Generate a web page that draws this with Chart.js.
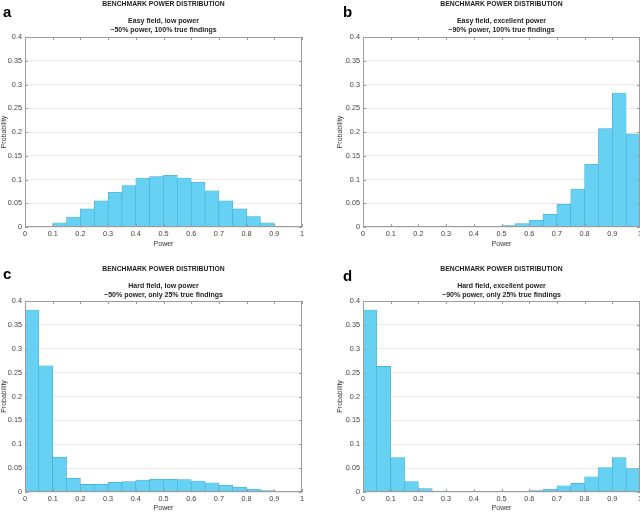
<!DOCTYPE html>
<html>
<head>
<meta charset="utf-8">
<script src="https://cdn.jsdelivr.net/npm/chart.js@4/dist/chart.umd.min.js"></script>
<style>
  html, body { margin: 0; padding: 0; background: #fff; }
  #wrap { position: relative; width: 640px; height: 512px; overflow: hidden; }
  canvas { position: absolute; }
</style>
</head>
<body>
<div id="wrap">
  <canvas id="panelA" width="320" height="256" style="left:0;top:0"></canvas>
  <canvas id="panelB" width="320" height="256" style="left:320px;top:0"></canvas>
  <canvas id="panelC" width="320" height="256" style="left:0;top:256px"></canvas>
  <canvas id="panelD" width="320" height="256" style="left:320px;top:256px"></canvas>
</div>
<script>
// bin centres (bins of width 0.05 from 0 to 1)
const binCenters = [0.025, 0.075, 0.125, 0.175, 0.225, 0.275, 0.325, 0.375, 0.425, 0.475,
                    0.525, 0.575, 0.625, 0.675, 0.725, 0.775, 0.825, 0.875, 0.925, 0.975];

// probability per bin
const easyLow = [0, 0.001, 0.009, 0.021, 0.038, 0.055, 0.073, 0.087, 0.103, 0.106,
                 0.109, 0.103, 0.094, 0.076, 0.055, 0.038, 0.022, 0.009, 0.002, 0];
const easyHigh = [0, 0, 0, 0, 0, 0, 0, 0, 0.0005, 0.001,
                  0.003, 0.007, 0.014, 0.027, 0.048, 0.080, 0.132, 0.207, 0.282, 0.196];
const hardLow = [0.381, 0.264, 0.073, 0.029, 0.016, 0.016, 0.020, 0.022, 0.025, 0.027,
                 0.027, 0.026, 0.023, 0.019, 0.014, 0.010, 0.006, 0.003, 0.001, 0];
const hardHigh = [0.381, 0.263, 0.072, 0.022, 0.007, 0.002, 0.001, 0, 0, 0,
                  0, 0.001, 0.003, 0.006, 0.013, 0.018, 0.032, 0.051, 0.072, 0.049];

const mainTitle = "BENCHMARK POWER DISTRIBUTION";
const panelLetters = ["a", "b", "c", "d"];
const subTitles = [
  ["Easy field, low power", "~50% power, 100% true findings"],
  ["Easy field, excellent power", "~90% power, 100% true findings"],
  ["Hard field, low power", "~50% power, only 25% true findings"],
  ["Hard field, excellent power", "~90% power, only 25% true findings"]
];
const xLabel = "Power";
const yLabel = "Probability";

const FONT = '"Liberation Sans", Arial, Helvetica, sans-serif';
const BAR_FILL = "#66d1f2";
const BAR_EDGE = "#44abd3";
const BOX = "#9c9c9c";

// MATLAB-like box, inward ticks and titles
const framePlugin = {
  id: "frame",
  afterDraw(chart, args, opts) {
    const { ctx, chartArea: ca, scales } = chart;
    const x = scales.x, y = scales.y;
    ctx.save();
    ctx.strokeStyle = BOX;
    ctx.lineWidth = 1;
    ctx.strokeRect(ca.left + 0.5, ca.top + 0.5, ca.right - ca.left - 1, ca.bottom - ca.top - 1);
    ctx.beginPath();
    x.ticks.forEach(t => {
      const px = Math.round(x.getPixelForValue(t.value)) + 0.5;
      ctx.moveTo(px, ca.bottom); ctx.lineTo(px, ca.bottom - 3);
      ctx.moveTo(px, ca.top); ctx.lineTo(px, ca.top + 3);
    });
    y.ticks.forEach(t => {
      const py = Math.round(y.getPixelForValue(t.value)) + 0.5;
      ctx.moveTo(ca.left, py); ctx.lineTo(ca.left + 3, py);
      ctx.moveTo(ca.right, py); ctx.lineTo(ca.right - 3, py);
    });
    ctx.stroke();

    const cx = (ca.left + ca.right) / 2;
    ctx.fillStyle = "#1e1e1e";
    ctx.textAlign = "center";
    ctx.textBaseline = "middle";
    ctx.font = "bold 6.8px " + FONT;
    ctx.fillText(mainTitle, cx, opts.titleY[0]);
    ctx.font = "bold 7px " + FONT;
    ctx.fillText(opts.sub[0], cx, opts.titleY[1]);
    ctx.fillText(opts.sub[1], cx, opts.titleY[2]);

    ctx.textAlign = "left";
    ctx.textBaseline = "alphabetic";
    ctx.font = "bold 15px " + FONT;
    ctx.fillStyle = "#000";
    ctx.fillText(opts.letter, opts.letterX, opts.letterY);
    ctx.restore();
  }
};

const fmt = v => String(+Number(v).toFixed(2));

const makePanel = (id, values, idx, lay) => {
  const el = document.getElementById(id);
  return new Chart(el.getContext("2d"), {
    type: "bar",
    data: {
      datasets: [{
        data: binCenters.map((c, i) => ({ x: c, y: values[i] })),
        backgroundColor: BAR_FILL,
        borderColor: BAR_EDGE,
        borderWidth: 0.6,
        barPercentage: 1,
        categoryPercentage: 1
      }]
    },
    options: {
      responsive: false,
      animation: false,
      layout: { padding: { left: lay.padLeft, right: lay.padRight, top: lay.top, bottom: lay.padBottom } },
      plugins: {
        legend: { display: false },
        tooltip: { enabled: false },
        frame: {
          letter: panelLetters[idx],
          sub: subTitles[idx],
          titleY: lay.titleY,
          letterX: lay.letterX,
          letterY: lay.letterY
        }
      },
      scales: {
        x: {
          type: "linear",
          min: 0,
          max: 1,
          offset: false,
          grid: { display: false, drawTicks: false },
          border: { display: false },
          ticks: { stepSize: 0.1, padding: 3, maxRotation: 0, color: "#444", font: { family: FONT, size: 7.3 }, callback: fmt },
          title: { display: true, text: xLabel, color: "#333", padding: 0, font: { family: FONT, size: 7 } },
          afterFit(s) { s.height = lay.xHeight; s.paddingLeft = 0; s.paddingRight = 0; }
        },
        y: {
          min: 0,
          max: 0.4,
          grid: { color: "#ebebeb", drawTicks: false },
          border: { display: false },
          ticks: { stepSize: 0.05, padding: 3, color: "#444", font: { family: FONT, size: 7.3 }, callback: fmt },
          title: { display: true, text: yLabel, color: "#333", padding: 0, font: { family: FONT, size: 7 } },
          afterFit(s) { s.width = lay.yWidth; s.paddingTop = 0; s.paddingBottom = 0; }
        }
      }
    },
    plugins: [framePlugin]
  });
};

makePanel("panelA", easyLow, 0, { padLeft: 0, yWidth: 25, padRight: 18, top: 37, padBottom: 8, xHeight: 21, titleY: [4, 21, 30], letterX: 3, letterY: 17 });
makePanel("panelB", easyHigh, 1, { padLeft: 16, yWidth: 27, padRight: 0, top: 37, padBottom: 8, xHeight: 21, titleY: [4, 21.5, 30], letterX: 23, letterY: 17 });
makePanel("panelC", hardLow, 2, { padLeft: 0, yWidth: 25, padRight: 18, top: 45, padBottom: 0, xHeight: 20, titleY: [12.7, 30.5, 39.2], letterX: 3, letterY: 23 });
makePanel("panelD", hardHigh, 3, { padLeft: 16, yWidth: 27, padRight: 0, top: 45, padBottom: 0, xHeight: 20, titleY: [12.7, 30.5, 39.2], letterX: 23, letterY: 24.5 });
</script>
</body>
</html>
